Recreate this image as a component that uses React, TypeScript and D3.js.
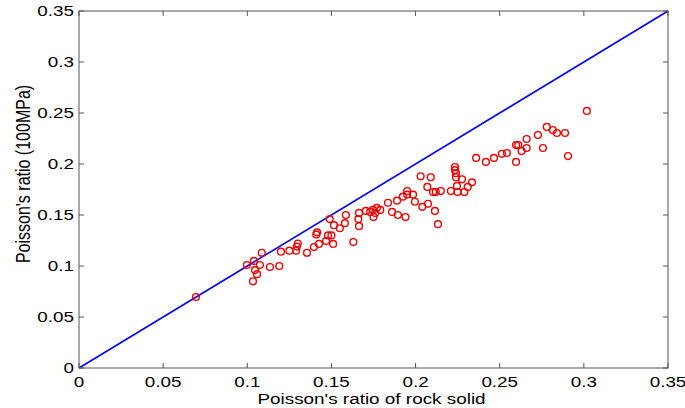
import React from "react";
import * as d3 from "d3";

const solidRatio: number[] = [
  0.0695, 0.0998, 0.104, 0.1086, 0.1075, 0.1046, 0.1058, 0.1034, 0.1135, 0.119,
  0.12, 0.125, 0.129, 0.13, 0.1295, 0.1355, 0.1396, 0.1426, 0.141, 0.1415,
  0.1468, 0.148, 0.151, 0.15, 0.149, 0.1515, 0.155, 0.158, 0.1586, 0.163,
  0.166, 0.1664, 0.1664, 0.1705, 0.173, 0.1747, 0.176, 0.177, 0.179, 0.175,
  0.1836, 0.186, 0.189, 0.1895, 0.1925, 0.194, 0.195, 0.195, 0.1985, 0.1996,
  0.203, 0.204, 0.207, 0.2074, 0.209, 0.2104, 0.2115, 0.212, 0.215, 0.2133,
  0.221, 0.2234, 0.2234, 0.224, 0.224, 0.2246, 0.225, 0.2276, 0.229, 0.231,
  0.2335, 0.236, 0.2418, 0.2466, 0.2513, 0.2543, 0.2597, 0.261, 0.2597, 0.263,
  0.266, 0.266, 0.2727, 0.2757, 0.278, 0.2816, 0.284, 0.2888, 0.2906, 0.3018,
];

const ratio100MPa: number[] = [
  0.0696, 0.101, 0.105, 0.113, 0.101, 0.096, 0.092, 0.085, 0.099, 0.1,
  0.114, 0.115, 0.115, 0.122, 0.119, 0.113, 0.1186, 0.1216, 0.131, 0.133,
  0.1245, 0.13, 0.1216, 0.13, 0.146, 0.14, 0.137, 0.142, 0.15, 0.1235,
  0.146, 0.139, 0.152, 0.154, 0.153, 0.155, 0.152, 0.157, 0.155, 0.148,
  0.162, 0.153, 0.164, 0.15, 0.168, 0.148, 0.17, 0.1735, 0.17, 0.163,
  0.188, 0.158, 0.1775, 0.161, 0.187, 0.1725, 0.154, 0.1725, 0.1735, 0.141,
  0.1735, 0.197, 0.194, 0.191, 0.187, 0.1785, 0.1725, 0.185, 0.1725, 0.1775,
  0.182, 0.206, 0.202, 0.206, 0.21, 0.2108, 0.2186, 0.2186, 0.202, 0.2127,
  0.2245, 0.2157, 0.2284, 0.2157, 0.2363, 0.2333, 0.2304, 0.2304, 0.2078, 0.252,
];

const tickValues: number[] = [0, 0.05, 0.1, 0.15, 0.2, 0.25, 0.3, 0.35];
const tickLabels: string[] = ["0", "0.05", "0.1", "0.15", "0.2", "0.25", "0.3", "0.35"];
const xTitle = "Poisson's ratio of rock solid";
const yTitle = "Poisson's ratio (100MPa)";

export default function App() {
  const W = 685, H = 408;
  const left = 79, right = 668, top = 11, bottom = 368;
  const x = d3.scaleLinear().domain([0, 0.35]).range([left, right]);
  const y = d3.scaleLinear().domain([0, 0.35]).range([bottom, top]);
  const font = "Arial, 'Liberation Sans', sans-serif";
  const axisColor = "#555";
  const tl = 5;
  const sx = 1.3;
  const line = d3.line<number>().x((d) => x(d)).y((d) => y(d));
  const pts = solidRatio.map((v, i) => [v, ratio100MPa[i]] as [number, number]);

  return (
    <svg width={W} height={H} style={{ position: "fixed", left: 0, top: 0, background: "#fff" }}>
      <rect x={0} y={0} width={W} height={H} fill="#fff" />
      <path d={line([0, 0.35]) || ""} stroke="#0000ff" strokeWidth={1.6} fill="none" />
      {pts.map((p, i) => (
        <circle key={i} cx={x(p[0])} cy={y(p[1])} r={3.4} fill="none" stroke="#ee0000" strokeWidth={1.4} />
      ))}
      <rect x={left} y={top} width={right - left} height={bottom - top} fill="none" stroke={axisColor} strokeWidth={1} />
      {tickValues.map((t, i) => (
        <g key={"x" + i}>
          <line x1={x(t)} x2={x(t)} y1={bottom} y2={bottom - tl} stroke={axisColor} />
          <line x1={x(t)} x2={x(t)} y1={top} y2={top + tl} stroke={axisColor} />
          <text
            transform={`translate(${x(t)}, ${bottom + 19}) scale(${sx}, 1)`}
            fontFamily={font}
            fontSize={14.5}
            textAnchor="middle"
            fill="#000"
          >
            {tickLabels[i]}
          </text>
        </g>
      ))}
      {tickValues.map((t, i) => (
        <g key={"y" + i}>
          <line x1={left} x2={left + tl} y1={y(t)} y2={y(t)} stroke={axisColor} />
          <line x1={right} x2={right - tl} y1={y(t)} y2={y(t)} stroke={axisColor} />
          <text
            transform={`translate(${left - 5}, ${y(t) + 5}) scale(${sx}, 1)`}
            fontFamily={font}
            fontSize={14.5}
            textAnchor="end"
            fill="#000"
          >
            {tickLabels[i]}
          </text>
        </g>
      ))}
      <text
        transform={`translate(${(left + right) / 2 - 2}, 404) scale(1.22, 1)`}
        fontFamily={font}
        fontSize={15.5}
        textAnchor="middle"
        fill="#000"
      >
        {xTitle}
      </text>
      <text
        transform={`translate(30, 174) scale(1.25, 1) rotate(-90)`}
        fontFamily={font}
        fontSize={16}
        textAnchor="middle"
        fill="#000"
      >
        {yTitle}
      </text>
    </svg>
  );
}
